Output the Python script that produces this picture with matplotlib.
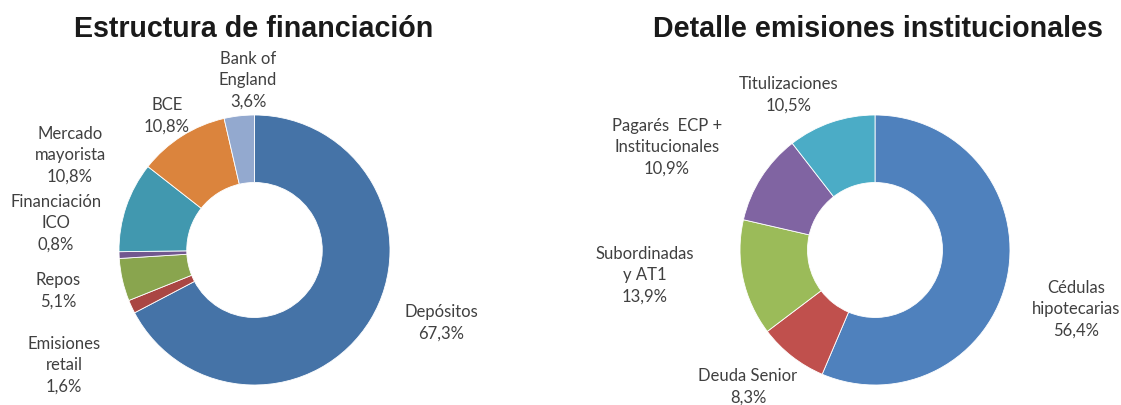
import matplotlib.pyplot as plt

# left donut: funding structure
fin_labels = ["Depósitos", "Emisiones\nretail", "Repos", "Financiación\nICO",
              "Mercado\nmayorista", "BCE", "Bank of\nEngland"]
fin_values = [67.3, 1.6, 5.1, 0.8, 10.8, 10.8, 3.6]
fin_colors = ["#4573a7", "#aa4643", "#89a54e", "#71588f", "#4198af", "#db843d", "#93a9cf"]

# right donut: institutional issues
inst_labels = ["Cédulas\nhipotecarias", "Deuda Senior", "Subordinadas\ny AT1",
               "Pagarés  ECP +\nInstitucionales", "Titulizaciones"]
inst_values = [56.4, 8.3, 13.9, 10.9, 10.5]
inst_colors = ["#4f81bd", "#c0504d", "#9bbb59", "#8064a2", "#4bacc6"]

# label block centres in pixels
fin_pos = [(441, 323), (64, 365), (58, 291), (56, 223), (70, 155), (167, 116), (248, 80)]
inst_pos = [(1076, 309), (748, 387), (645, 275), (667, 147), (789, 95)]

W, H = 1121, 405
fig = plt.figure(figsize=(W / 100, H / 100), dpi=100)
plt.rcParams['font.family'] = ['Lato', 'DejaVu Sans']


def donut(box, values, colors, labels, pos, title, title_x):
    x0, y0, x1, y1 = box
    ax = fig.add_axes([x0 / W, 1 - y1 / H, (x1 - x0) / W, (y1 - y0) / H])
    ax.pie(values, colors=colors, startangle=90, counterclock=False, radius=1,
           wedgeprops=dict(width=0.5, edgecolor="white", linewidth=0.6))
    ax.set_aspect('auto')
    ax.set_xlim(-1, 1)
    ax.set_ylim(-1, 1)
    ax.axis('off')
    for lab, v, (px, py) in zip(labels, values, pos):
        txt = lab + "\n" + f"{v:.1f}%".replace(".", ",")
        fig.text(px / W, 1 - py / H, txt, ha='center', va='center', fontsize=12,
                 color="#404040", linespacing=1.42)
    fig.text(title_x / W, 1 - 29 / H, title, ha='center', va='center', fontsize=20.6,
             fontweight='bold', family='Liberation Sans', color="#1a1a1a")


donut((119, 115, 390, 385), fin_values, fin_colors, fin_labels, fin_pos,
      "Estructura de financiación", 254)
donut((740, 115, 1010, 385), inst_values, inst_colors, inst_labels, inst_pos,
      "Detalle emisiones institucionales", 878)

plt.savefig("out.png", dpi=100)
